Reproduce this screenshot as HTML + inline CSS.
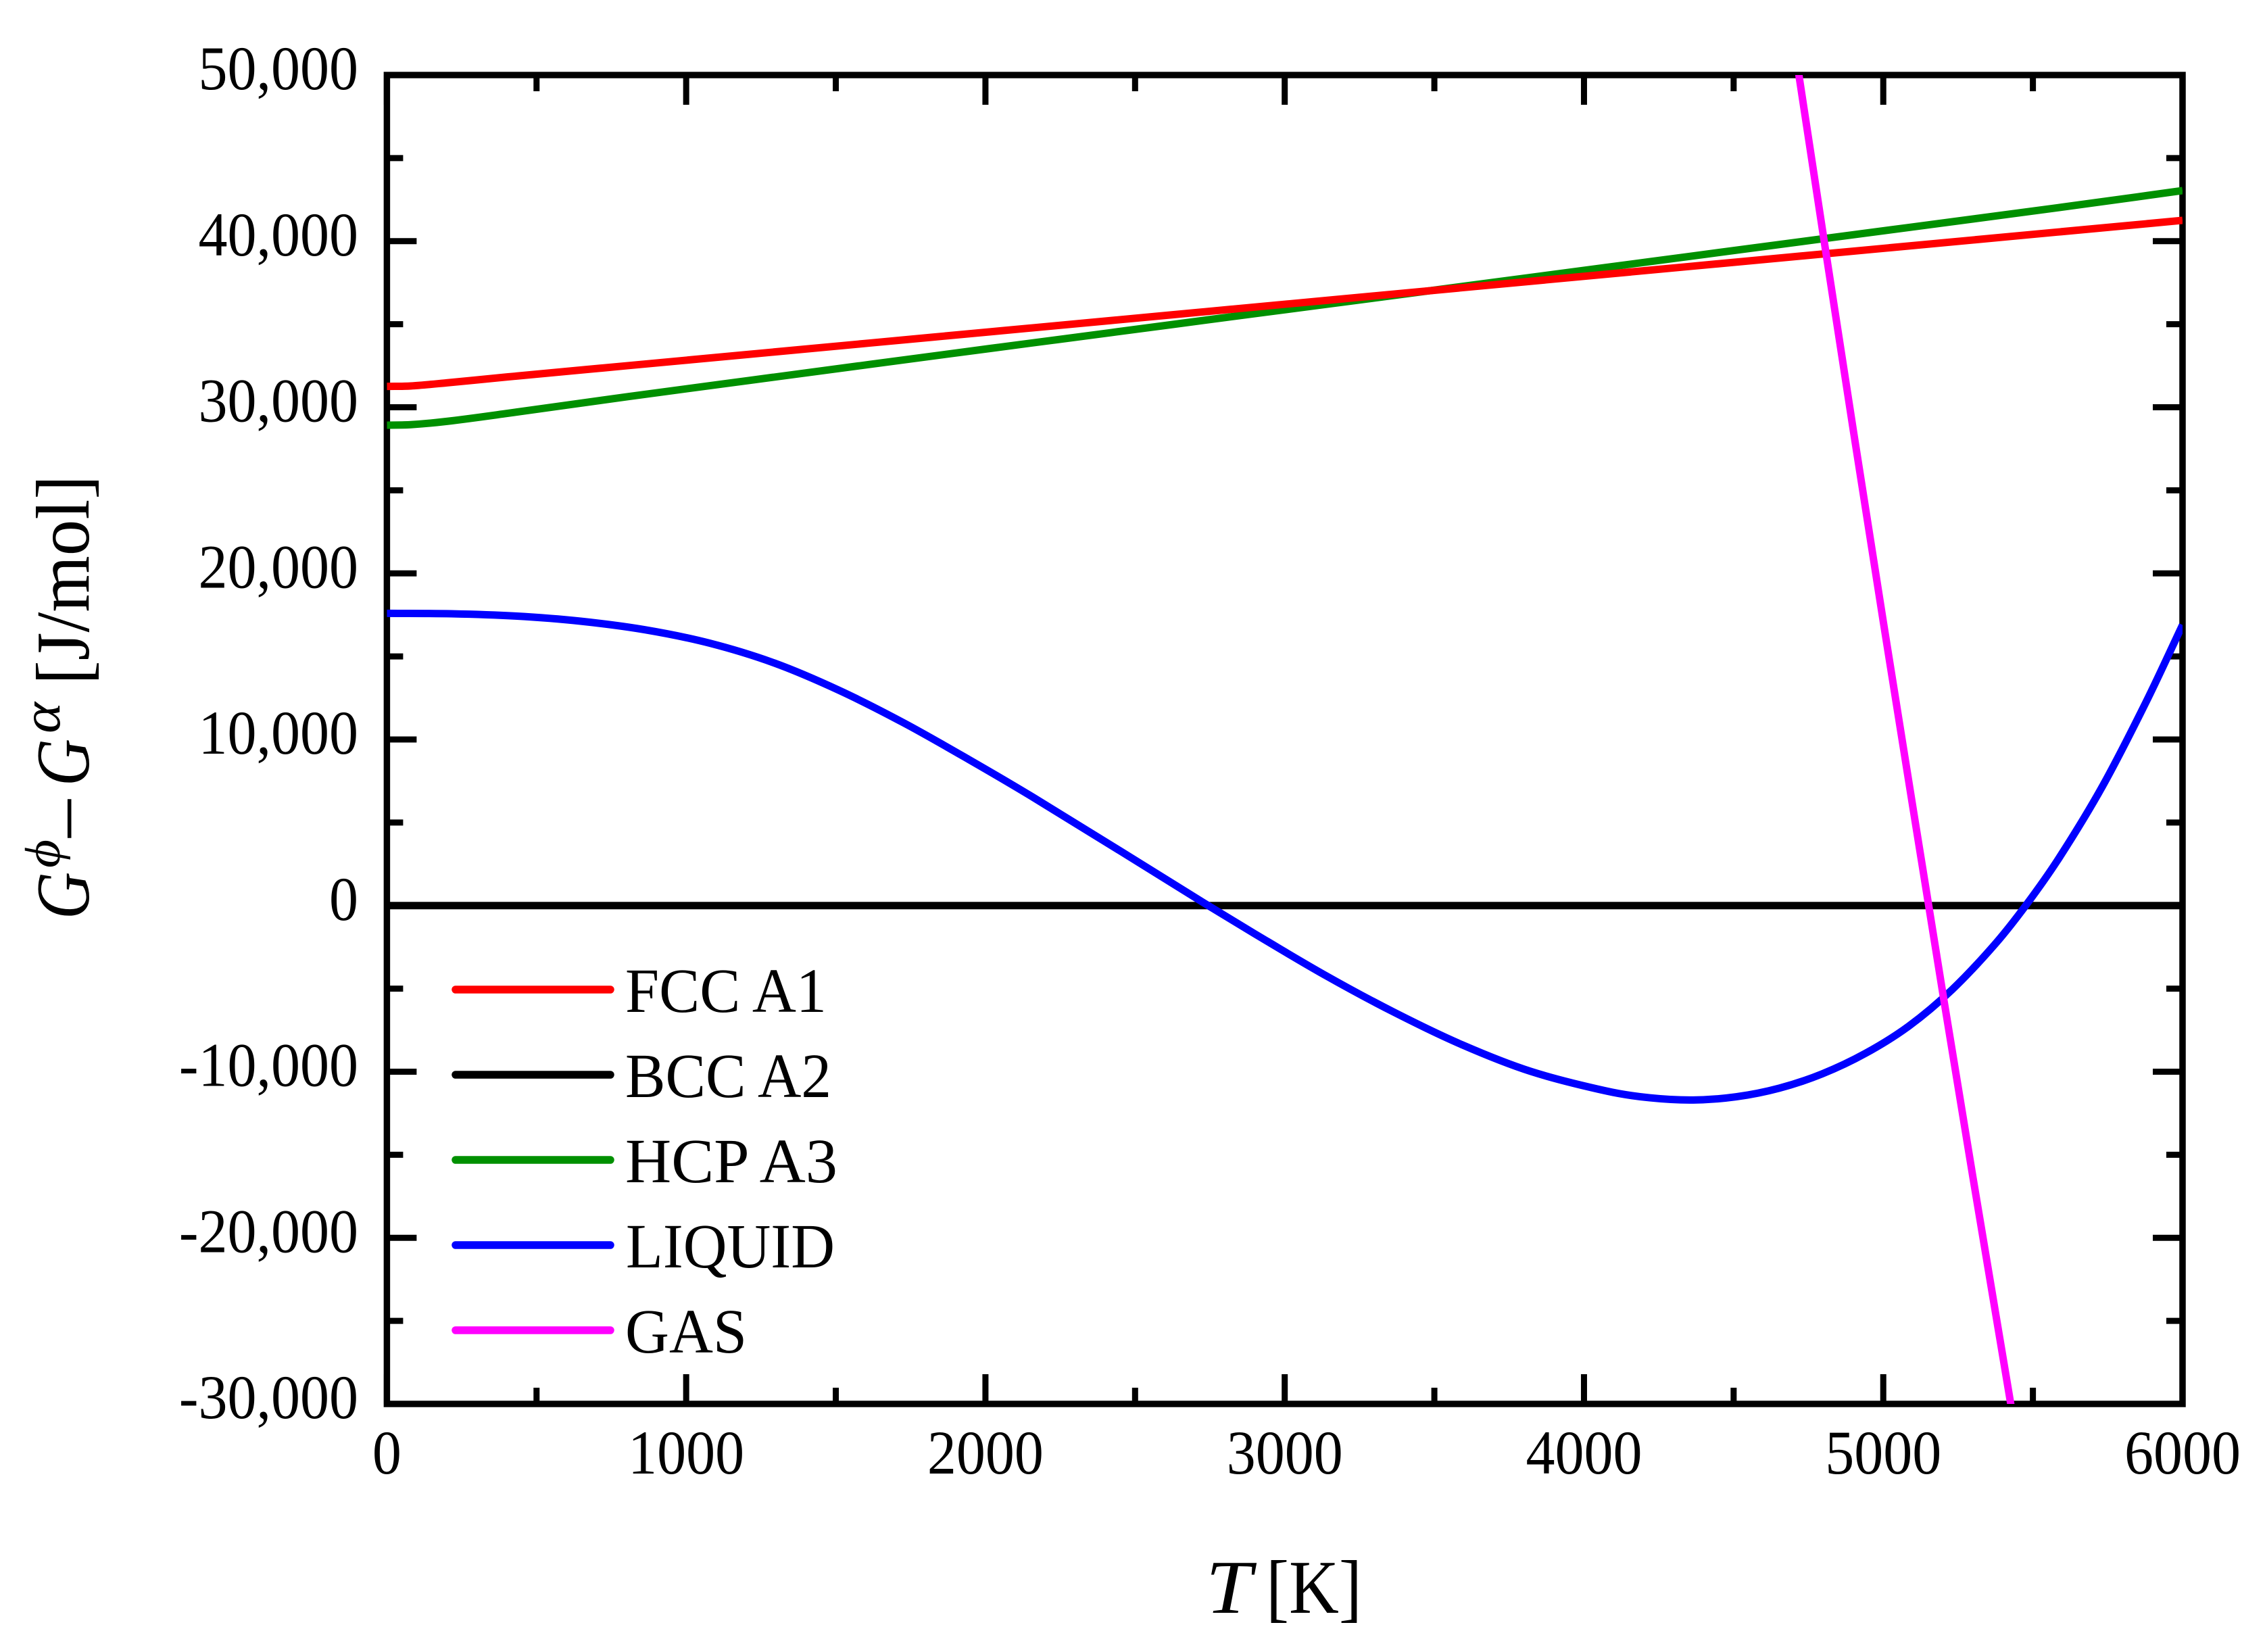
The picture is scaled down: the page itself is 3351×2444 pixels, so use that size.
<!DOCTYPE html>
<html lang="en">
<head>
<meta charset="utf-8">
<title>Gibbs energy difference vs temperature</title>
<style>
html,body{margin:0;padding:0;background:#fff;}
svg{display:block;}
text{font-family:"Liberation Serif","DejaVu Serif",serif;fill:#000;}
.it{font-style:italic;}
</style>
</head>
<body>
<svg id="chart" xmlns="http://www.w3.org/2000/svg" width="3351" height="2444" viewBox="0 0 3351 2444">
  <rect x="0" y="0" width="3351" height="2444" fill="#fff"/>
  <defs>
    <clipPath id="plot-clip"><rect x="572.4" y="111" width="2656.6" height="1966"/></clipPath>
  </defs>
  <g id="ticks"></g>
  <rect x="572.4" y="111" width="2656.6" height="1966" fill="none" stroke="#000" stroke-width="9.5"/>
  <g id="tick-labels"></g>
  <g id="series" clip-path="url(#plot-clip)"></g>

  <g>
    <g>
      <line x1="674" x2="903" y1="1464" y2="1464" stroke="#ff0000" stroke-width="11.5" stroke-linecap="round"/>
      <text x="925" y="1497" font-size="93" textLength="298" lengthAdjust="spacingAndGlyphs">FCC A1</text>
    </g>
    <g>
      <line x1="674" x2="903" y1="1590" y2="1590" stroke="#000000" stroke-width="11.5" stroke-linecap="round"/>
      <text x="925" y="1623" font-size="93" textLength="305" lengthAdjust="spacingAndGlyphs">BCC A2</text>
    </g>
    <g>
      <line x1="674" x2="903" y1="1716" y2="1716" stroke="#009000" stroke-width="11.5" stroke-linecap="round"/>
      <text x="925" y="1749" font-size="93" textLength="314" lengthAdjust="spacingAndGlyphs">HCP A3</text>
    </g>
    <g>
      <line x1="674" x2="903" y1="1842" y2="1842" stroke="#0000ff" stroke-width="11.5" stroke-linecap="round"/>
      <text x="926" y="1875" font-size="93" textLength="309" lengthAdjust="spacingAndGlyphs">LIQUID</text>
    </g>
    <g>
      <line x1="674" x2="903" y1="1968" y2="1968" stroke="#ff00ff" stroke-width="11.5" stroke-linecap="round"/>
      <text x="925" y="2001" font-size="93" textLength="180" lengthAdjust="spacingAndGlyphs">GAS</text>
    </g>
  </g>

  <g>
    <text class="it" x="1784" y="2386" font-size="112" textLength="68" lengthAdjust="spacingAndGlyphs">T</text>
    <text x="1873" y="2386" font-size="112" textLength="142" lengthAdjust="spacingAndGlyphs">[K]</text>
  </g>

  <g transform="translate(131,1356) rotate(-90)">
    <text class="it" x="-4" y="0" font-size="112" textLength="70" lengthAdjust="spacingAndGlyphs">G</text>
    <text class="it" x="72" y="-43" font-size="74" textLength="42" lengthAdjust="spacingAndGlyphs">ϕ</text>
    <text x="117" y="-2" font-size="112" textLength="56" lengthAdjust="spacingAndGlyphs">–</text>
    <text class="it" x="193" y="0" font-size="112" textLength="70" lengthAdjust="spacingAndGlyphs">G</text>
    <text class="it" x="271" y="-43" font-size="80" textLength="46" lengthAdjust="spacingAndGlyphs">α</text>
    <text x="343" y="0" font-size="112" textLength="310" lengthAdjust="spacingAndGlyphs">[J/mol]</text>
  </g>
</svg>

<script>
// Axis tick labels
const xTickValues = [0, 1000, 2000, 3000, 4000, 5000, 6000];
const xTickLabels = ["0", "1000", "2000", "3000", "4000", "5000", "6000"];
const xMinorTicks = [500, 1500, 2500, 3500, 4500, 5500];
const yTickValues = [50000, 40000, 30000, 20000, 10000, 0, -10000, -20000, -30000];
const yTickLabels = ["50,000", "40,000", "30,000", "20,000", "10,000", "0", "-10,000", "-20,000", "-30,000"];
const yMinorTicks = [45000, 35000, 25000, 15000, 5000, -5000, -15000, -25000];

// Series: temperature [K] and G difference [J/mol]
const fccT = [0, 80, 200, 402, 805, 1209, 1612, 2016, 2418, 2822, 3161, 3500, 4353, 4805, 5089, 5579, 6000];
const fccG = [31254, 31283, 31470, 31825, 32504, 33184, 33863, 34543, 35220, 35900, 36470, 37041, 38477, 39238, 39716, 40541, 41250];
const bccT = [0, 6000];
const bccG = [0, 0];
const hcpT = [0, 80, 200, 402, 805, 1209, 1612, 2016, 2418, 2822, 3161, 3400, 4353, 4805, 5579, 6000];
const hcpG = [28923, 28951, 29150, 29630, 30640, 31610, 32575, 33540, 34490, 35450, 36250, 36815, 39083, 40159, 42000, 43042];
const liquidT = [0, 215, 430, 647, 864, 1078, 1295, 1512, 1727, 1944, 2161, 2556, 2729, 2901, 3132, 3362, 3593, 3822, 4077, 4220, 4365, 4509, 4653, 4796, 4941, 5085, 5230, 5373, 5480, 5589, 5733, 5878, 6000];
const liquidG = [17594, 17570, 17430, 17120, 16600, 15800, 14600, 12950, 11000, 8800, 6500, 2110, 170, -1710, -4160, -6390, -8380, -9980, -11170, -11570, -11702, -11510, -10990, -10130, -8890, -7260, -5060, -2330, 100, 2910, 7200, 12250, 16895];
const gasT = [4700, 4800, 4900, 5000, 5100, 5200, 5300, 5426, 5450];
const gasG = [52150, 40300, 28600, 17100, 5800, -5400, -16400, -30000, -32600];

const SVG_NS = "http://www.w3.org/2000/svg";
const plotLeft = 572.4, plotRight = 3229, plotTop = 111, plotBottom = 2077;
const xMin = 0, xMax = 6000, yMin = -30000, yMax = 50000;
const xScale = v => plotLeft + (v - xMin) / (xMax - xMin) * (plotRight - plotLeft);
const yScale = v => plotBottom - (v - yMin) / (yMax - yMin) * (plotBottom - plotTop);

const ticksGroup = document.getElementById("ticks");
const labelsGroup = document.getElementById("tick-labels");
const seriesGroup = document.getElementById("series");

function makeLine(x1, y1, x2, y2) {
  const el = document.createElementNS(SVG_NS, "line");
  el.setAttribute("x1", x1);
  el.setAttribute("y1", y1);
  el.setAttribute("x2", x2);
  el.setAttribute("y2", y2);
  el.setAttribute("stroke", "#000");
  el.setAttribute("stroke-width", "9");
  ticksGroup.appendChild(el);
  return el;
}

function drawXTick(v, len, kind) {
  const x = xScale(v);
  const bottom = makeLine(x, plotBottom, x, plotBottom - len);
  
  
  const top = makeLine(x, plotTop, x, plotTop + len);
  
  
}

function drawYTick(v, len, kind) {
  const y = yScale(v);
  const left = makeLine(plotLeft, y, plotLeft + len, y);
  
  
  const right = makeLine(plotRight, y, plotRight - len, y);
  
  
}

xTickValues.forEach(v => drawXTick(v, 44, 'major'));
xMinorTicks.forEach(v => drawXTick(v, 24, 'minor'));
yTickValues.forEach(v => drawYTick(v, 44, 'major'));
yMinorTicks.forEach(v => drawYTick(v, 24, 'minor'));

function makeLabel(str, x, y, anchor) {
  const el = document.createElementNS(SVG_NS, "text");
  el.textContent = str;
  el.setAttribute("font-size", "92");
  el.setAttribute("text-anchor", anchor);
  el.setAttribute("transform", "translate(" + x + "," + y + ") scale(0.935,1)");
  labelsGroup.appendChild(el);
  return el;
}

xTickValues.forEach((v, i) => {
  const el = makeLabel(xTickLabels[i], xScale(v), 2180, "middle");
  
  
});
yTickValues.forEach((v, i) => {
  const el = makeLabel(yTickLabels[i], 530, yScale(v) + 21, "end");
  
  
});

// Cubic Hermite path: tangents from neighbouring points, scaled by each segment's width
function smoothPath(ts, gs) {
  const xs = ts.map(xScale), ys = gs.map(yScale), n = xs.length;
  const slope = i => {
    const a = Math.max(i - 1, 0), b = Math.min(i + 1, n - 1);
    return (ys[b] - ys[a]) / (xs[b] - xs[a]);
  };
  let d = "M" + xs[0].toFixed(2) + " " + ys[0].toFixed(2);
  for (let i = 0; i < n - 1; i++) {
    const h = (xs[i + 1] - xs[i]) / 3;
    d += "C" + (xs[i] + h).toFixed(2) + " " + (ys[i] + slope(i) * h).toFixed(2) + " " +
         (xs[i + 1] - h).toFixed(2) + " " + (ys[i + 1] - slope(i + 1) * h).toFixed(2) + " " +
         xs[i + 1].toFixed(2) + " " + ys[i + 1].toFixed(2);
  }
  return d;
}

function drawSeries(ts, gs, color) {
  const el = document.createElementNS(SVG_NS, "path");
  el.setAttribute("d", smoothPath(ts, gs));
  el.setAttribute("fill", "none");
  el.setAttribute("stroke", color);
  el.setAttribute("stroke-width", "11");
  el.setAttribute("stroke-linejoin", "round");
  seriesGroup.appendChild(el);
  return el;
}

const bccLine = drawSeries(bccT, bccG, "#000000");


const hcpLine = drawSeries(hcpT, hcpG, "#009000");


const fccLine = drawSeries(fccT, fccG, "#ff0000");


const liquidLine = drawSeries(liquidT, liquidG, "#0000ff");


const gasLine = drawSeries(gasT, gasG, "#ff00ff");


</script>
</body>
</html>
